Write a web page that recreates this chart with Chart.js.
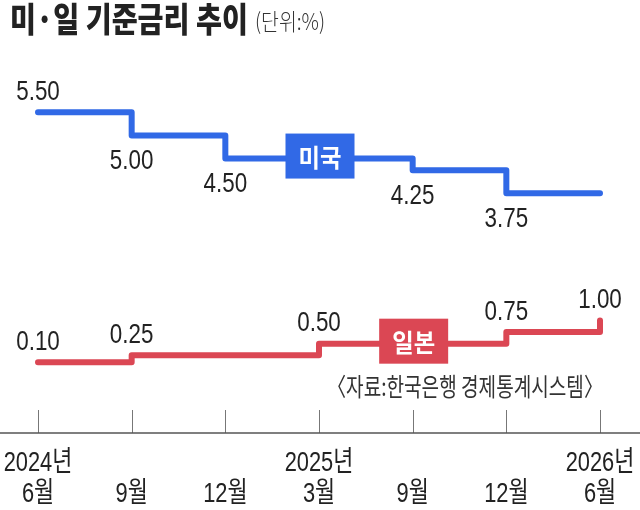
<!DOCTYPE html>
<html>
<head>
<meta charset="utf-8">
<script src="https://cdn.jsdelivr.net/npm/chart.js@4"></script>
<style>
  html, body { margin: 0; padding: 0; background: #ffffff; }
  #wrap { width: 640px; height: 510px; position: relative; }
  canvas { display: block; }
</style>
</head>
<body>
<div id="wrap"><canvas id="c" width="640" height="510"></canvas></div>
<script>
// ---- data ----
const yearLabels  = ['2024년', '', '', '2025년', '', '', '2026년'];
const monthLabels = ['6월', '9월', '12월', '3월', '9월', '12월', '6월'];
const usRates     = [5.50, 5.00, 4.50, 4.50, 4.25, 3.75, 3.75];
const japanRates  = [0.10, 0.25, 0.25, 0.50, 0.50, 0.75, 1.00];
const seriesNames = ['미국', '일본'];
const titleText   = '미·일 기준금리 추이';
const unitText    = '(단위:%)';
const sourceText  = '〈자료:한국은행 경제통계시스템〉';

// ---- style ----
const BLUE = '#3169e6';
const RED  = '#db4754';
const TEXT = '#222222';
const NUM_FONT = "'Liberation Sans', 'Noto Sans CJK KR', Arial, sans-serif";
const KR_FONT  = "'Noto Sans CJK KR', 'Noto Sans', sans-serif";

const categories = monthLabels.map((m, i) => [yearLabels[i], m]);

// label placement per point (layout only)
const labelPlacement = [
  ['above', 'below', 'below', null, 'below', 'below', null],
  ['above', 'above', null, 'above', null, 'above', 'above']
];
const boxIndex = [3, 4];

function drawScaledText(ctx, text, x, y, font, color, align, scaleX) {
  ctx.save();
  ctx.font = font;
  ctx.fillStyle = color;
  ctx.textBaseline = 'middle';
  const w = ctx.measureText(text).width * scaleX;
  let left = x;
  if (align === 'center') left = x - w / 2;
  else if (align === 'right') left = x - w;
  ctx.translate(left, y);
  ctx.scale(scaleX, 1);
  ctx.textAlign = 'left';
  ctx.fillText(text, 0, 0);
  ctx.restore();
  return w;
}
function drawFitText(ctx, text, x, y, font, color, align, targetW) {
  ctx.save();
  ctx.font = font;
  const s = targetW / ctx.measureText(text).width;
  ctx.restore();
  return drawScaledText(ctx, text, x, y, font, color, align, s);
}

const decorPlugin = {
  id: 'decor',
  beforeDatasetsDraw(chart) {
    const ctx = chart.ctx;
    const xs = chart.scales.x;
    const area = chart.chartArea;
    ctx.save();
    // tick marks
    ctx.strokeStyle = '#777';
    ctx.lineWidth = 1;
    xs.ticks.forEach((t, i) => {
      const px = Math.round(xs.getPixelForTick(i)) + 0.5;
      ctx.beginPath();
      ctx.moveTo(px, area.bottom - 23);
      ctx.lineTo(px, area.bottom);
      ctx.stroke();
    });
    // axis line across full width
    ctx.strokeStyle = '#555';
    ctx.lineWidth = 1.5;
    ctx.beginPath();
    ctx.moveTo(0, area.bottom);
    ctx.lineTo(chart.width, area.bottom);
    ctx.stroke();
    ctx.restore();
    // tick labels (condensed), placed by the category scale
    xs.ticks.forEach((t, i) => {
      const px = xs.getPixelForTick(i);
      const lab = xs.getLabelForValue(t.value);
      const lines = Array.isArray(lab) ? lab : [lab];
      lines.forEach((ln, k) => {
        if (!ln) return;
        drawScaledText(ctx, ln, px, area.bottom + 30 + k * 31,
          '28px ' + NUM_FONT, TEXT, 'center', 0.78);
      });
    });
  },
  afterDatasetsDraw(chart) {
    const ctx = chart.ctx;
    // value labels
    chart.data.datasets.forEach((ds, di) => {
      const meta = chart.getDatasetMeta(di);
      meta.data.forEach((pt, i) => {
        const place = labelPlacement[di][i];
        if (!place) return;
        const y = place === 'above' ? pt.y - 20 : pt.y + 26;
        drawScaledText(ctx, ds.data[i].toFixed(2), pt.x, y,
          '28px ' + NUM_FONT, TEXT, 'center', 0.8);
      });
      // name box
      const bp = meta.data[boxIndex[di]];
      const bw = 69, bh = 45;
      const cx = bp.x + 1, cy = bp.y - 2.5;
      ctx.save();
      ctx.fillStyle = ds.borderColor;
      ctx.fillRect(cx - bw / 2, cy - bh / 2, bw, bh);
      ctx.restore();
      drawFitText(ctx, seriesNames[di], cx, cy + 1, '700 25px ' + KR_FONT, '#ffffff', 'center', 43);
    });
    // title
    drawFitText(ctx, titleText, 10, 19, '900 34px ' + KR_FONT, TEXT, 'left', 238);
    drawFitText(ctx, unitText, 255, 21, '300 23px ' + KR_FONT, '#333', 'left', 70);
    // source
    drawFitText(ctx, sourceText, 603, 386, '400 25px ' + KR_FONT, '#333', 'right', 276);
  }
};

new Chart(document.getElementById('c'), {
  type: 'line',
  data: {
    labels: categories,
    datasets: [
      {
        label: seriesNames[0], data: usRates,
        borderColor: BLUE, backgroundColor: BLUE,
        borderWidth: 6, stepped: true, pointRadius: 0,
        borderCapStyle: 'round', borderJoinStyle: 'round', fill: false
      },
      {
        label: seriesNames[1], data: japanRates,
        borderColor: RED, backgroundColor: RED,
        borderWidth: 6, stepped: true, pointRadius: 0,
        borderCapStyle: 'round', borderJoinStyle: 'round', fill: false
      }
    ]
  },
  options: {
    responsive: false,
    animation: false,
    devicePixelRatio: 1,
    layout: { padding: { left: 38, right: 40, top: 66, bottom: 0 } },
    plugins: { legend: { display: false }, tooltip: { enabled: false }, title: { display: false } },
    scales: {
      x: {
        type: 'category',
        offset: false,
        grid: { display: false },
        border: { display: false },
        ticks: { display: false, autoSkip: false, maxRotation: 0, minRotation: 0 },
        afterFit(s) { s.paddingLeft = 0; s.paddingRight = 0; s.height = 77; }
      },
      y: { display: false, min: -1.43, max: 6.5 }
    }
  },
  plugins: [decorPlugin]
});
</script>
</body>
</html>
